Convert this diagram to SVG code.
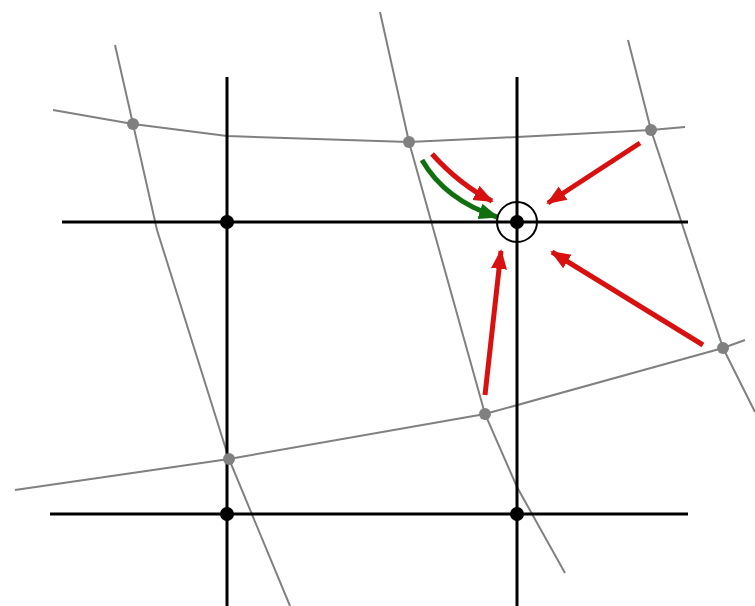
<svg xmlns="http://www.w3.org/2000/svg" width="755" height="606" viewBox="0 0 755 606">
<style>
.g{fill:none;stroke:#808080;stroke-width:2}
.gp{fill:#808080}
.k{fill:none;stroke:#000;stroke-width:3}
.kp{fill:#000}
.r{fill:none;stroke:#d81010;stroke-width:5}
.gr{fill:none;stroke:#107010;stroke-width:5}
</style>
<defs>
<marker id="ar" markerUnits="userSpaceOnUse" markerWidth="20" markerHeight="20" viewBox="0 0 20 20" refX="18" refY="10" orient="auto"><path d="M0,2 L20,10 L0,18 Z" fill="#d81010"/></marker>
<marker id="ag" markerUnits="userSpaceOnUse" markerWidth="20" markerHeight="20" viewBox="0 0 20 20" refX="18" refY="10" orient="auto"><path d="M0,2 L20,10 L0,18 Z" fill="#107010"/></marker>
</defs>
<rect width="755" height="606" fill="#fff"/>
<g id="connectors">
<g id="gray-mesh">
<polyline class="g" points="53,110 133,124 227,136 409,142 517,137 651,130 685,127"/>
<polyline class="g" points="115,45 133,124 157,230 229,459 290,606"/>
<polyline class="g" points="380,12 409,142 485,414 517,487 565,573"/>
<polyline class="g" points="628,40 651,130 723,348 755,412"/>
<polyline class="g" points="15,490 229,459 485,414 723,348 745,340"/>
</g>
<g id="black-grid">
<line class="k" x1="227" y1="77" x2="227" y2="606"/>
<line class="k" x1="517" y1="77" x2="517" y2="606"/>
<line class="k" x1="62" y1="222" x2="688" y2="222"/>
<line class="k" x1="50" y1="514" x2="688" y2="514"/>
</g>
<g id="arrows">
<path class="r" d="M432,154 Q460,185 492,201" marker-end="url(#ar)"/>
<path class="gr" d="M422,160 Q445,200 497,217" marker-end="url(#ag)"/>
<line class="r" x1="640" y1="143" x2="548" y2="203" marker-end="url(#ar)"/>
<line class="r" x1="485" y1="395" x2="501" y2="251" marker-end="url(#ar)"/>
<line class="r" x1="703" y1="345" x2="552" y2="252" marker-end="url(#ar)"/>
</g>
</g>
<g id="node-g1"><circle class="gp" cx="133" cy="124" r="6"/></g>
<g id="node-g2"><circle class="gp" cx="409" cy="142" r="6"/></g>
<g id="node-g3"><circle class="gp" cx="651" cy="130" r="6"/></g>
<g id="node-g4"><circle class="gp" cx="723" cy="348" r="6"/></g>
<g id="node-g5"><circle class="gp" cx="485" cy="414" r="6"/></g>
<g id="node-g6"><circle class="gp" cx="229" cy="459" r="6"/></g>
<g id="node-k1"><circle class="kp" cx="227" cy="222" r="7"/></g>
<g id="node-k2"><circle class="kp" cx="517" cy="222" r="7"/><circle cx="517" cy="222" r="20" fill="none" stroke="#000" stroke-width="2"/></g>
<g id="node-k3"><circle class="kp" cx="227" cy="514" r="7"/></g>
<g id="node-k4"><circle class="kp" cx="517" cy="514" r="7"/></g>
</svg>
